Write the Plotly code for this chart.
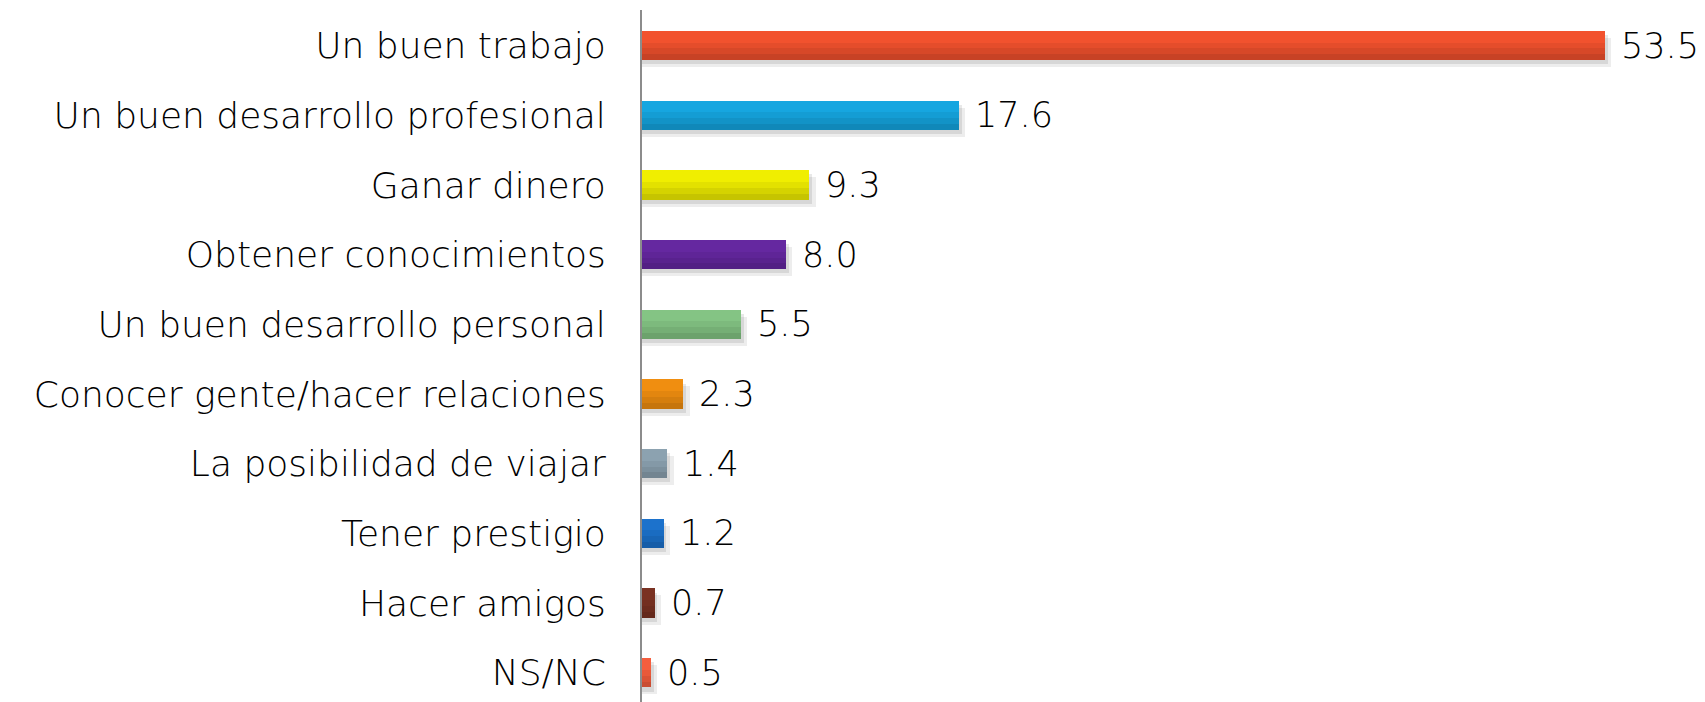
import plotly.graph_objects as go

categories = [
    "Un buen trabajo",
    "Un buen desarrollo profesional",
    "Ganar dinero",
    "Obtener conocimientos",
    "Un buen desarrollo personal",
    "Conocer gente/hacer relaciones",
    "La posibilidad de viajar",
    "Tener prestigio",
    "Hacer amigos",
    "NS/NC",
]
values = [53.5, 17.6, 9.3, 8.0, 5.5, 2.3, 1.4, 1.2, 0.7, 0.5]
colors = ["#F2522E", "#16A6E0", "#F0EE00", "#6528A0", "#84C484",
          "#F08E10", "#8CA2B0", "#1C72CC", "#7A3222", "#F55E3E"]

FONT = "DejaVu Sans"
BAR_W = 0.42

fig = go.Figure()
idx = list(range(len(categories)))

# soft shadow layers
for dx, dy, a in [(0.35, 0.10, 0.07), (0.15, 0.06, 0.09)]:
    fig.add_trace(go.Bar(
        y=idx, x=[v + dx for v in values], orientation="h",
        width=BAR_W, offset=-BAR_W / 2 + dy,
        marker=dict(color=f"rgba(0,0,0,{a})", line=dict(width=0)),
        hoverinfo="skip", showlegend=False,
    ))

# main bars
fig.add_trace(go.Bar(
    y=idx, x=values, orientation="h",
    width=BAR_W, offset=-BAR_W / 2,
    marker=dict(color=colors, line=dict(width=0)),
    showlegend=False,
))
# gradient-like shading layers
for frac, a in [(0.6, 0.05), (0.4, 0.06), (0.2, 0.07)]:
    fig.add_trace(go.Bar(
        y=idx, x=values, orientation="h",
        width=BAR_W * frac, offset=BAR_W / 2 - BAR_W * frac,
        marker=dict(color=f"rgba(0,0,0,{a})", line=dict(width=0)),
        hoverinfo="skip", showlegend=False,
    ))

for i, v in zip(idx, values):
    fig.add_annotation(
        x=v, y=i, text=f"{v:.1f}", showarrow=False,
        xanchor="left", yanchor="middle", xshift=14,
        font=dict(family=FONT, size=35, color="#000000", weight=200),
    )

fig.update_layout(
    width=1705, height=702,
    margin=dict(l=634, r=27, t=2, b=8),
    paper_bgcolor="white", plot_bgcolor="white",
    barmode="overlay", bargap=0,
    xaxis=dict(range=[0, 58], visible=False, showgrid=False, zeroline=False),
    yaxis=dict(
        range=[9.42, -0.51],
        tickmode="array", tickvals=idx, ticktext=categories,
        showgrid=False, zeroline=False,
        showline=True, linecolor="#8c8c8c", linewidth=2,
        ticks="", ticklabelstandoff=27, automargin=False,
        tickfont=dict(family=FONT, size=36, color="#000000", weight=200),
    ),
)

fig.write_html("out.html")
